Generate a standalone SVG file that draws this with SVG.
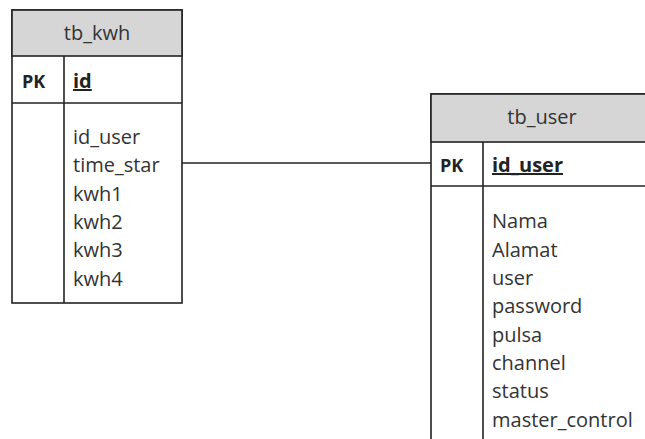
<svg xmlns="http://www.w3.org/2000/svg" width="645" height="439" viewBox="0 0 645 439">
<style>
.box{fill:#fff;stroke:#222;stroke-width:1.6}
.hdr{fill:#d6d6d6;stroke:#222;stroke-width:1.6}
.ln{stroke:#222;stroke-width:1.6;fill:none}
text{font-family:"Open Sans","Noto Sans","Liberation Sans",sans-serif;font-size:20px;fill:#333}
.t{text-anchor:middle}
.pk{font-weight:bold;font-size:18px;fill:#222}
.key{font-weight:bold;text-decoration:underline;fill:#222}
</style>
<rect width="645" height="439" fill="#fff"/>
<g id="connectors">
<line class="ln" x1="182" y1="163" x2="431" y2="163"/>
</g>
<g id="tb_kwh">
<rect class="box" x="12" y="10" width="170" height="293"/>
<rect class="hdr" x="12" y="10" width="170" height="46"/>
<line class="ln" x1="12" y1="103" x2="182" y2="103"/>
<line class="ln" x1="64" y1="56" x2="64" y2="303"/>
<text class="t" x="97" y="40">tb_kwh</text>
<text class="pk" x="22" y="88">PK</text>
<text class="key" x="73" y="88">id</text>
<text x="73" y="144">id_user</text>
<text x="73" y="172">time_star</text>
<text x="73" y="201">kwh1</text>
<text x="73" y="229">kwh2</text>
<text x="73" y="257">kwh3</text>
<text x="73" y="286">kwh4</text>
</g>
<g id="tb_user">
<rect class="box" x="431" y="94" width="230" height="360"/>
<rect class="hdr" x="431" y="94" width="230" height="48"/>
<line class="ln" x1="431" y1="186" x2="661" y2="186"/>
<line class="ln" x1="483" y1="142" x2="483" y2="454"/>
<text class="t" x="542" y="124">tb_user</text>
<text class="pk" x="440" y="172">PK</text>
<text class="key" x="492" y="172">id_user</text>
<text x="492" y="228">Nama</text>
<text x="492" y="257">Alamat</text>
<text x="492" y="285">user</text>
<text x="492" y="313">password</text>
<text x="492" y="342">pulsa</text>
<text x="492" y="370">channel</text>
<text x="492" y="398">status</text>
<text x="492" y="427">master_control</text>
</g>
</svg>
